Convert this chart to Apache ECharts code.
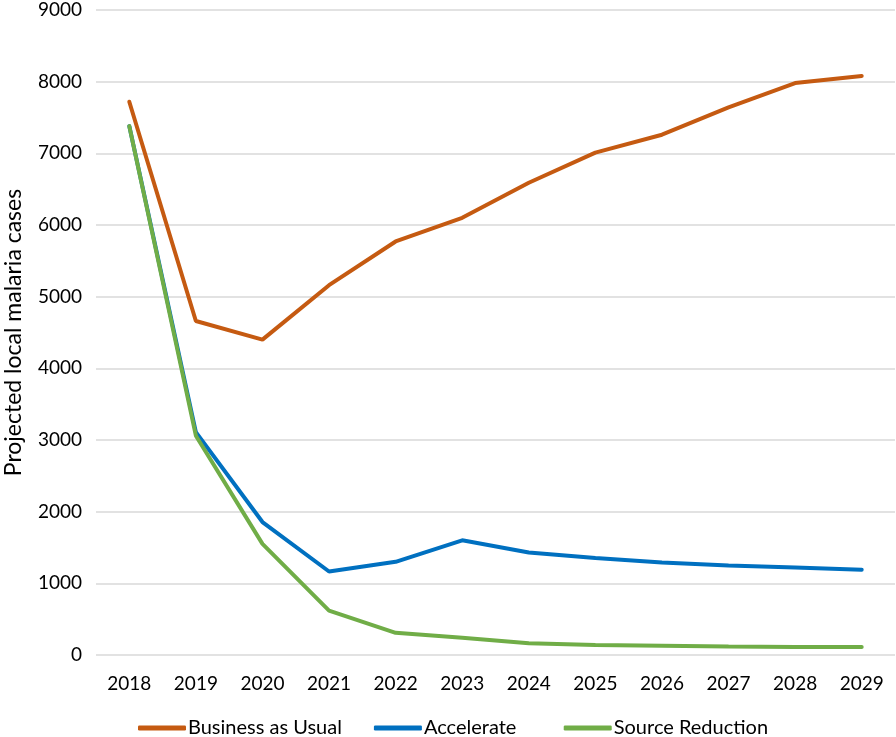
<!DOCTYPE html>
<html>
<head>
<meta charset="utf-8">
<script src="https://cdn.jsdelivr.net/npm/echarts@6/dist/echarts.min.js"></script>
<style>html,body{margin:0;padding:0;background:#fff;}#c{width:896px;height:737px;}</style>
</head>
<body>
<div id="c"></div>
<script>
const years = ['2018','2019','2020','2021','2022','2023','2024','2025','2026','2027','2028','2029'];
const businessAsUsual = [7720, 4660, 4400, 5160, 5770, 6100, 6590, 7010, 7260, 7640, 7980, 8080];
const accelerate = [7380, 3110, 1855, 1165, 1300, 1600, 1430, 1355, 1290, 1250, 1220, 1190];
const sourceReduction = [7380, 3060, 1550, 620, 310, 240, 165, 140, 130, 120, 112, 110];
const yTicks = {min: 0, max: 9000, interval: 1000};

const font = 'Lato, "Open Sans", sans-serif';
const chart = echarts.init(document.getElementById('c'));
chart.setOption({
  backgroundColor: '#fff',
  animation: false,
  textStyle: {fontFamily: font},
  grid: {left: 96, right: 1, top: 10, bottom: 82, containLabel: false, outerBoundsMode: 'none'},
  legend: {
    bottom: -6,
    left: 133,
    itemWidth: 48,
    itemHeight: 5,
    itemGap: 32,
    icon: 'roundRect',
    formatter: name => name === 'Accelerate' ? name + '\u00a0\u00a0\u00a0' : name,
    textStyle: {fontSize: 20, color: '#000', fontFamily: font, padding: [0,0,0,-3]},
    data: ['Business as Usual', 'Accelerate', 'Source Reduction']
  },
  xAxis: {
    type: 'category',
    data: years,
    boundaryGap: true,
    axisLine: {show: false},
    axisTick: {show: false},
    axisLabel: {fontSize: 19, color: '#000', margin: 19, fontFamily: font}
  },
  yAxis: {
    type: 'value',
    min: yTicks.min, max: yTicks.max, interval: yTicks.interval,
    name: 'Projected local malaria cases',
    nameLocation: 'middle',
    nameGap: 71,
    nameRotate: 90,
    nameTextStyle: {fontSize: 23, color: '#000', fontFamily: font},
    axisLine: {show: false},
    axisTick: {show: false},
    axisLabel: {fontSize: 19, color: '#000', margin: 14, fontFamily: font, formatter: v => String(v)},
    splitLine: {lineStyle: {color: '#d9d9d9', width: 1.5}}
  },
  series: [
    {name: 'Business as Usual', type: 'line', data: businessAsUsual, symbol: 'none',
     lineStyle: {color: '#C55A11', width: 4, cap: 'round'}, itemStyle: {color: '#C55A11'}},
    {name: 'Accelerate', type: 'line', data: accelerate, symbol: 'none',
     lineStyle: {color: '#0070C0', width: 4, cap: 'round'}, itemStyle: {color: '#0070C0'}},
    {name: 'Source Reduction', type: 'line', data: sourceReduction, symbol: 'none',
     lineStyle: {color: '#70AD47', width: 4, cap: 'round'}, itemStyle: {color: '#70AD47'}}
  ]
});
</script>
</body>
</html>
